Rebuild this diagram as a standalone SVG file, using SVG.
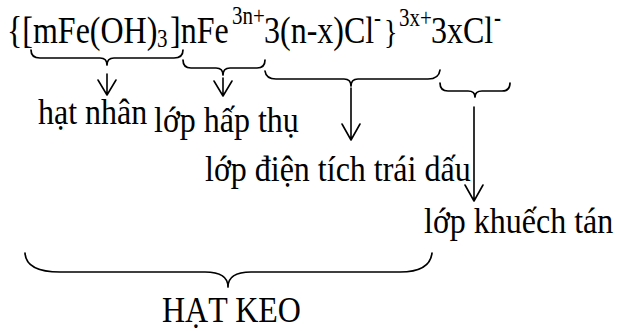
<svg xmlns="http://www.w3.org/2000/svg" width="618" height="331" viewBox="0 0 618 331">
<style>
text{font-family:"Liberation Serif","Times New Roman",serif;fill:#000;font-size:32px}
.sup{font-size:21px}
.br{fill:none;stroke:#000;stroke-width:1.7;stroke-linecap:round;stroke-linejoin:round}
.ar{fill:none;stroke:#000;stroke-width:1.6;stroke-linecap:round;stroke-linejoin:round}
</style>
<g id="formula">
<text transform="translate(0,43) scale(1,1.18)" y="0"><tspan x="7">{[mFe(OH)</tspan><tspan class="sup" x="157" y="3">3</tspan><tspan x="170" y="0">]nFe</tspan><tspan class="sup" x="232" y="-16">3n+</tspan><tspan x="264" y="0">3(n-x)Cl</tspan><tspan class="sup" x="374" y="-14">-</tspan><tspan x="384" y="0" style="font-size:28px">}</tspan><tspan class="sup" x="399" y="-14">3x+</tspan><tspan x="431" y="0">3xCl</tspan><tspan class="sup" x="494" y="-14" font-weight="bold">-</tspan></text>
</g>
<g id="connectors">
<path class="br" d="M31,50 Q31,58 40,58 L100,58 Q107,58 107,65 Q107,58 114,58 L174,58 Q183,58 183,50"/>
<path class="br" d="M183,60 Q183,68 191,68 L216,68 Q223,68 223,75 Q223,68 230,68 L257,68 Q265,68 265,60"/>
<path class="br" d="M265,71 Q266,79 276,79 L344,79 Q351,79 351,86 Q351,79 358,79 L428,79 Q439,79 440,70"/>
<path class="br" d="M440,83 Q440,91 448,91 L468,91 Q475,91 475,97 Q475,91 482,91 L502,91 Q510,91 510,83"/>
<path class="br" d="M25,253 Q26,272 60,272 L205,272 Q228,272 228,287 Q228,272 251,272 L400,272 Q430,272 432,253"/>
<path class="ar" d="M107,74 L107,95 M98,80 L107,95 L116,80"/>
<path class="ar" d="M223,78 L223,96 M214,81 L223,96 L232,81"/>
<path class="ar" d="M351,88 L351,140 M342,124 L351,140 L360,124"/>
<path class="ar" d="M474,107 L474,201 M465,185 L474,201 L483,185"/>
</g>
<g id="hat-nhan"><text transform="translate(38,124) scale(1,1.15)">hạt nhân</text></g>
<g id="lop-hap-thu"><text transform="translate(154,132) scale(1,1.15)">lớp hấp thụ</text></g>
<g id="lop-dien-tich"><text transform="translate(205,181) scale(1,1.15)">lớp điện tích trái dấu</text></g>
<g id="lop-khuech-tan"><text transform="translate(424,233) scale(1,1.15)">lớp khuếch tán</text></g>
<g id="hat-keo"><text transform="translate(162,322) scale(1,1.15)">HẠT KEO</text></g>
</svg>
